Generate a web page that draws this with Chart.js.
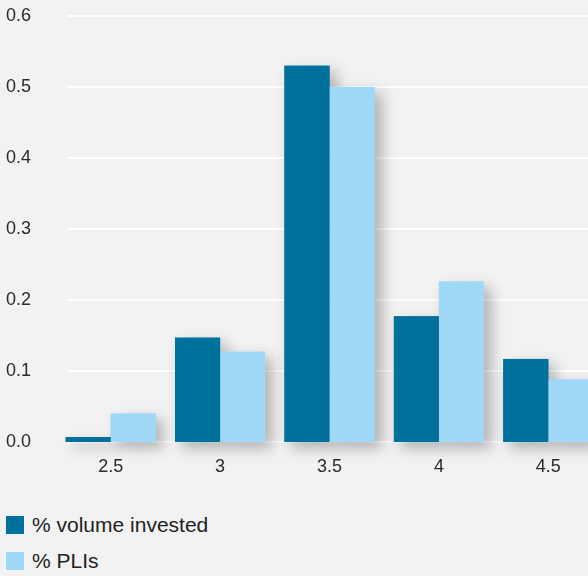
<!DOCTYPE html>
<html>
<head>
<meta charset="utf-8">
<script src="https://cdn.jsdelivr.net/npm/chart.js@4/dist/chart.umd.min.js"></script>
<style>
  body { margin: 0; background: #f2f2f2; overflow: hidden; font-family: "Liberation Sans", Arial, sans-serif; }
  .wrap { position: relative; width: 588px; height: 576px; overflow: hidden; }
  canvas { position: absolute; left: 0; top: 0; }
  #legend { position: absolute; left: 6px; top: 516px; }
  .item { display: flex; align-items: center; height: 18px; margin-bottom: 18px; font-size: 21px; color: #222; }
  .box { width: 18px; height: 18px; margin-right: 8px; }
</style>
</head>
<body>
<div class="wrap">
  <canvas id="chart" width="603" height="490"></canvas>
  <div id="legend"></div>
</div>
<script>
const categories = ['2.5', '3', '3.5', '4', '4.5'];
const volumeInvested = [0.007, 0.147, 0.53, 0.177, 0.117];
const plis = [0.04, 0.127, 0.5, 0.226, 0.088];
const yTicks = [0, 0.1, 0.2, 0.3, 0.4, 0.5, 0.6];

const darkBlue = '#00719c';
const lightBlue = '#a0d8f7';
const tickFont = { family: '"Liberation Sans", Arial', size: 18 };

// white gridlines that start a little right of the axis, then bar shadows under the bars
const backdrop = {
  id: 'backdrop',
  beforeDatasetsDraw(chart) {
    const ctx = chart.ctx;
    const y = chart.scales.y;
    ctx.save();
    ctx.strokeStyle = '#ffffff';
    ctx.lineWidth = 2;
    yTicks.forEach(v => {
      const py = Math.round(y.getPixelForValue(v));
      ctx.beginPath();
      ctx.moveTo(67, py);
      ctx.lineTo(chart.chartArea.right, py);
      ctx.stroke();
    });
    ctx.restore();

    chart.data.datasets.forEach((ds, i) => {
      const meta = chart.getDatasetMeta(i);
      meta.data.forEach(bar => {
        ctx.save();
        ctx.shadowColor = 'rgba(0, 0, 0, 0.28)';
        ctx.shadowBlur = 14;
        ctx.shadowOffsetX = 7;
        ctx.shadowOffsetY = 6;
        ctx.fillStyle = ds.backgroundColor;
        ctx.fillRect(bar.x - bar.width / 2, bar.y, bar.width, bar.base - bar.y);
        ctx.restore();
      });
    });
  }
};

const chart = new Chart(document.getElementById('chart'), {
  type: 'bar',
  data: {
    labels: categories,
    datasets: [
      { label: '% volume invested', data: volumeInvested, backgroundColor: darkBlue },
      { label: '% PLIs', data: plis, backgroundColor: lightBlue },
    ],
  },
  options: {
    responsive: false,
    animation: false,
    layout: { padding: { left: 6, top: 16, right: 0, bottom: 0 } },
    categoryPercentage: 0.823,
    barPercentage: 1,
    plugins: {
      legend: { display: false },
      tooltip: { enabled: false },
    },
    scales: {
      x: {
        grid: { display: false },
        border: { display: false },
        ticks: { color: '#2a2a2a', padding: 6, font: tickFont },
        afterFit: axis => { axis.height = 48; },
      },
      y: {
        min: 0,
        max: 0.6,
        grid: { display: false },
        border: { display: false },
        ticks: {
          stepSize: 0.1,
          crossAlign: 'far',
          color: '#2a2a2a',
          font: tickFont,
          callback: v => v.toFixed(1),
        },
        afterFit: axis => { axis.width = 50; },
      },
    },
  },
  plugins: [backdrop],
});

// legend as plain html, stacked like the original
const legend = document.getElementById('legend');
chart.data.datasets.forEach(ds => {
  const item = document.createElement('div');
  item.className = 'item';
  const box = document.createElement('span');
  box.className = 'box';
  box.style.background = ds.backgroundColor;
  const text = document.createElement('span');
  text.textContent = ds.label;
  item.appendChild(box);
  item.appendChild(text);
  legend.appendChild(item);
});
</script>
</body>
</html>
